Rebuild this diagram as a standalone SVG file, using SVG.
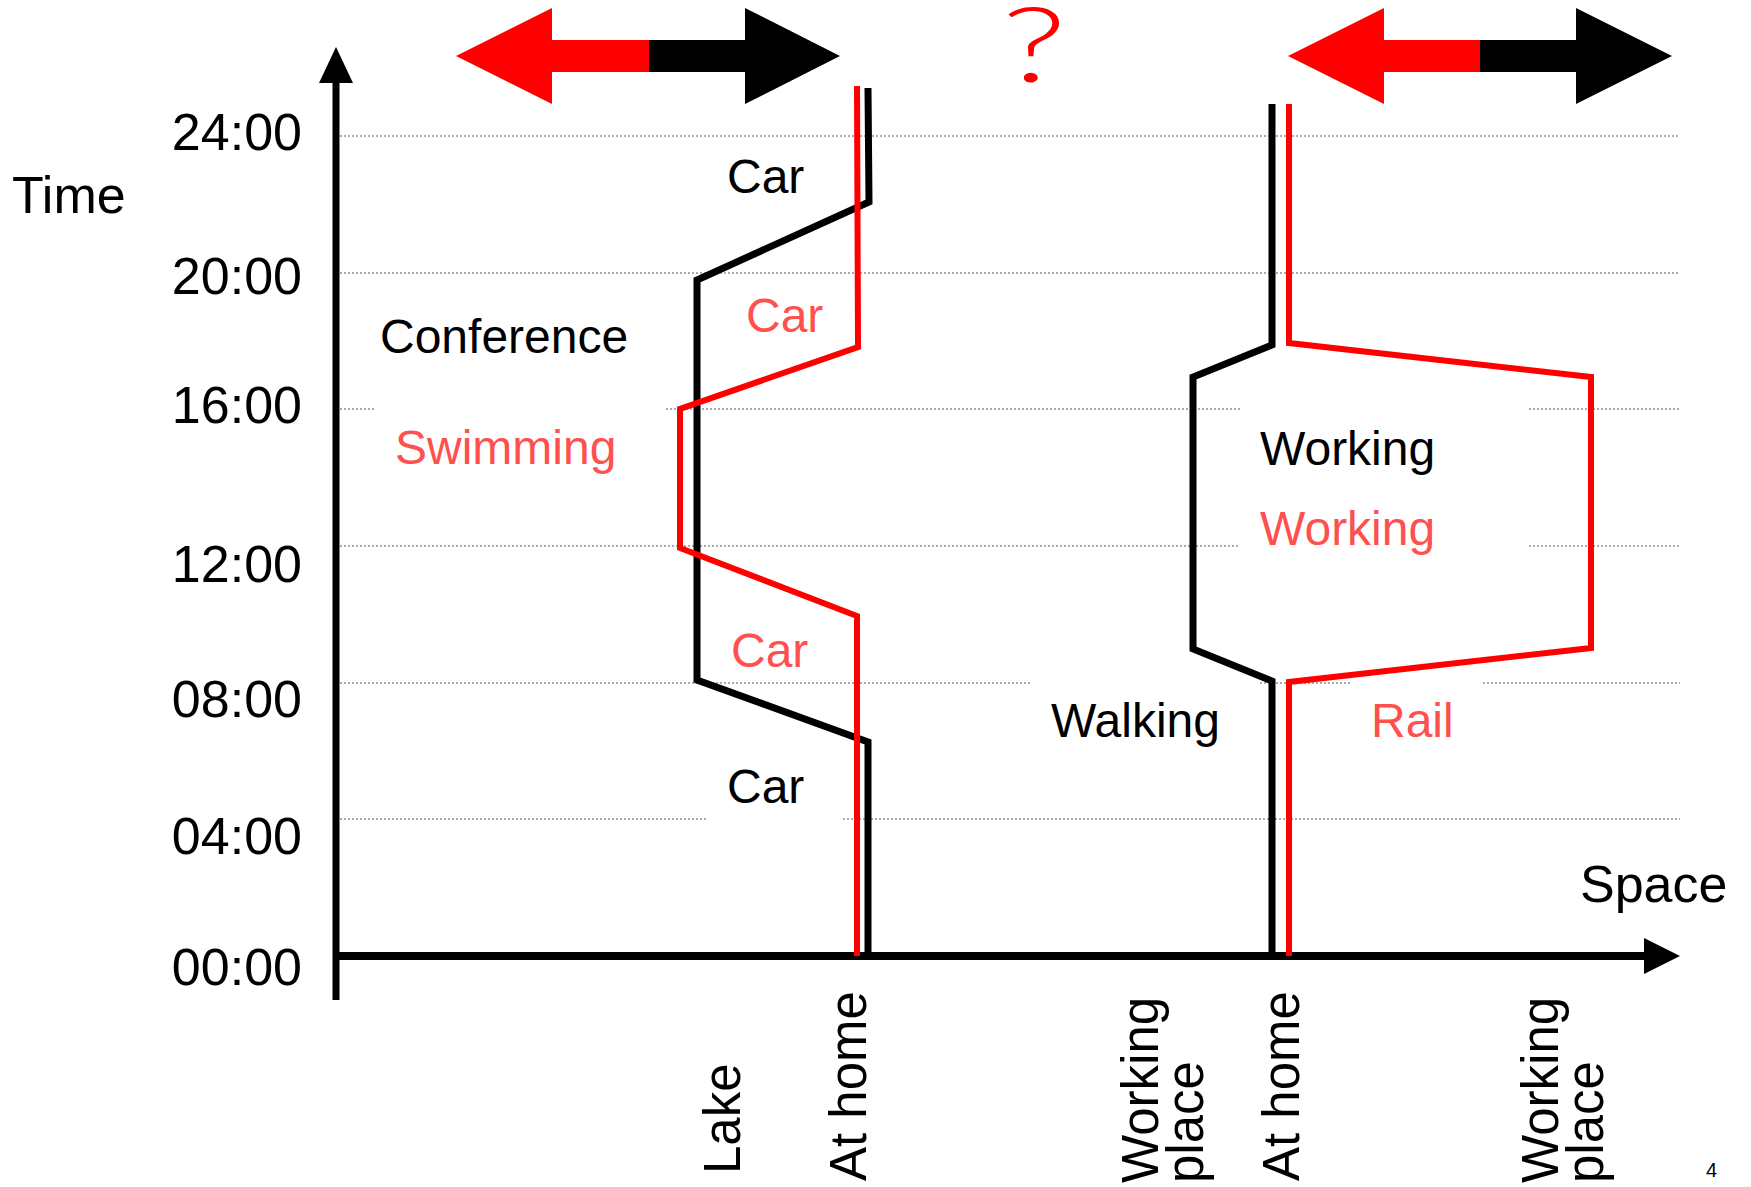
<svg xmlns="http://www.w3.org/2000/svg" width="1751" height="1187" viewBox="0 0 1751 1187">
<style>
text{font-family:"Liberation Sans",Arial,sans-serif;}
.tl{font-size:52px;fill:#000;text-anchor:end;}
.ax{font-size:52px;fill:#000;}
.lb{font-size:48px;fill:#000;}
.lr{font-size:48px;fill:#FF5050;}
.rot{font-size:51px;fill:#000;}
.grid{stroke:#ABABAB;stroke-width:2;stroke-dasharray:2 2;fill:none;}
.blk{stroke:#000;stroke-width:7;fill:none;stroke-linejoin:miter;stroke-miterlimit:10;}
.red{stroke:#FF0000;stroke-width:6;fill:none;stroke-linejoin:miter;stroke-miterlimit:10;}
</style>
<rect width="1751" height="1187" fill="#fff"/>
<g id="grid">
<path class="grid" d="M340 136H1680M340 273H1680M340 409H375M666 409H1240M1529 409H1680M340 546H1240M1529 546H1680M340 683H1031M1260 683H1352M1483 683H1680M340 819H707M843 819H1680"/>
</g>
<g id="axes">
<line x1="336" y1="80" x2="336" y2="1000" stroke="#000" stroke-width="7"/>
<polygon points="336,47 319,83 353,83" fill="#000"/>
<line x1="333" y1="956" x2="1646" y2="956" stroke="#000" stroke-width="8"/>
<polygon points="1680,956 1644,938 1644,974" fill="#000"/>
</g>
<g id="arrow-left">
<polygon points="456,56 552,8 552,40 649,40 649,72 552,72 552,104" fill="#FF0000"/>
<polygon points="649,40 745,40 745,8 840,56 745,104 745,72 649,72" fill="#000"/>
</g>
<g id="arrow-right">
<polygon points="1288,56 1384,8 1384,40 1480,40 1480,72 1384,72 1384,104" fill="#FF0000"/>
<polygon points="1480,40 1576,40 1576,8 1672,56 1576,104 1576,72 1480,72" fill="#000"/>
</g>
<g id="connectors">
<polyline class="blk" points="868,956 868,742 697,680 697,280 869,202 868,88"/>
<polyline class="red" points="857,956 857,616 680,548 680,409 858,347 857,86"/>
<polyline class="blk" points="1272,956 1272,681 1193,649 1193,377 1272,345 1272,104"/>
<polyline class="red" points="1289,956 1289,682 1591,648 1591,377 1289,343 1289,104"/>
</g>
<g id="time-labels">
<text class="tl" x="302" y="150">24:00</text>
<text class="tl" x="302" y="294">20:00</text>
<text class="tl" x="302" y="423">16:00</text>
<text class="tl" x="302" y="582">12:00</text>
<text class="tl" x="302" y="717">08:00</text>
<text class="tl" x="302" y="854">04:00</text>
<text class="tl" x="302" y="985">00:00</text>
</g>
<g id="axis-titles">
<text class="ax" x="12" y="213">Time</text>
<text class="ax" x="1580" y="902">Space</text>
</g>
<g id="question">
<text transform="translate(1034,82) scale(1.45,1)" x="0" y="0" text-anchor="middle" font-size="104" font-weight="300" fill="#FF0000" style="font-family:Lato,'Liberation Sans',sans-serif">?</text>
</g>
<g id="activity-labels">
<text class="lb" x="727" y="193">Car</text>
<text class="lr" x="746" y="332">Car</text>
<text class="lb" x="380" y="353">Conference</text>
<text class="lr" x="395" y="464">Swimming</text>
<text class="lr" x="731" y="667">Car</text>
<text class="lb" x="727" y="803">Car</text>
<text class="lb" x="1260" y="465">Working</text>
<text class="lr" x="1260" y="545">Working</text>
<text class="lb" x="1051" y="737">Walking</text>
<text class="lr" x="1371" y="737">Rail</text>
</g>
<g id="place-labels">
<text class="rot" transform="translate(740,1174) rotate(-90)">Lake</text>
<text class="rot" transform="translate(866,1181) rotate(-90)">At home</text>
<text class="rot" transform="translate(1158,1183) rotate(-90)">Working</text>
<text class="rot" transform="translate(1203,1183) rotate(-90)">place</text>
<text class="rot" transform="translate(1299,1181) rotate(-90)">At home</text>
<text class="rot" transform="translate(1558,1183) rotate(-90)">Working</text>
<text class="rot" transform="translate(1603,1183) rotate(-90)">place</text>
</g>
<text x="1706" y="1177" font-size="20" fill="#000">4</text>
</svg>
